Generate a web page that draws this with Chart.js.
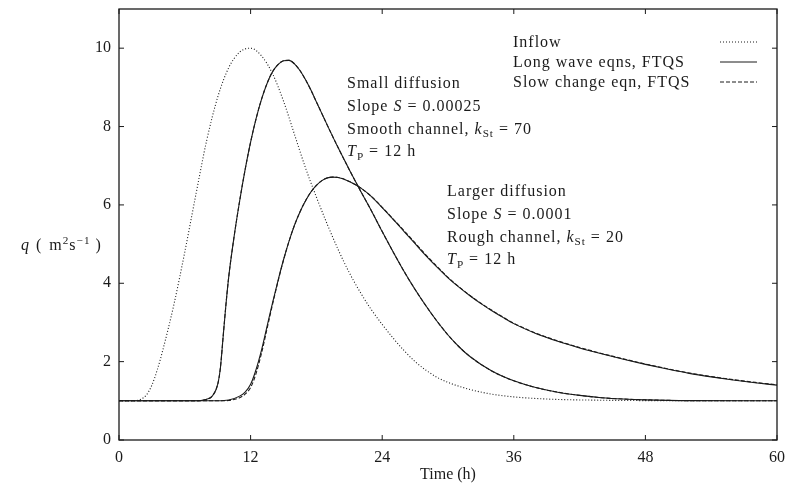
<!DOCTYPE html>
<html lang="en">
<head>
<meta charset="UTF-8">
<title>Flood wave routing</title>
<script src="https://cdn.jsdelivr.net/npm/chart.js"></script>
<style>
    html, body { margin: 0; padding: 0; background: #fff; }
    .wrap { width: 792px; height: 486px; position: relative; }
</style>
</head>
<body>
<div class="wrap"><canvas id="flow"></canvas></div>
<script>
// time (h) and discharge q (m^2/s)
const inflowT = [0, 1, 1.5, 2, 2.5, 3, 3.5, 4, 5, 6, 7, 8, 9, 10, 11, 12, 13, 14, 15, 16, 17, 18, 19, 20, 21, 22, 23, 24, 25, 26, 27, 28, 29, 30, 32, 34, 36, 38, 40, 44, 48, 54, 60];
const inflowQ = [1, 1, 1.005, 1.04, 1.15, 1.4, 1.8, 2.3, 3.45, 4.8, 6.25, 7.65, 8.75, 9.5, 9.9, 10, 9.8, 9.35, 8.65, 7.8, 6.95, 6.2, 5.5, 4.85, 4.27, 3.77, 3.33, 2.95, 2.6, 2.28, 2.0, 1.78, 1.6, 1.47, 1.29, 1.17, 1.1, 1.06, 1.035, 1.015, 1.005, 1, 1];

const smallT = [0, 7, 7.5, 8, 8.5, 9, 9.25, 9.5, 9.75, 10, 10.5, 11, 11.5, 12, 12.5, 13, 13.5, 14, 14.5, 15, 15.5, 16, 16.5, 17, 17.5, 18, 18.5, 19, 20, 21, 22, 23, 24, 25, 26, 27, 28, 29, 30, 31, 32, 34, 36, 38, 40, 42, 44, 46, 48, 52, 60];
const longSmallQ = [1, 1, 1.01, 1.04, 1.12, 1.42, 1.85, 2.65, 3.45, 4.15, 5.2, 6.1, 6.9, 7.6, 8.2, 8.7, 9.1, 9.4, 9.58, 9.68, 9.69, 9.6, 9.43, 9.2, 8.93, 8.63, 8.33, 8.03, 7.45, 6.9, 6.37, 5.86, 5.32, 4.8, 4.3, 3.84, 3.42, 3.03, 2.68, 2.38, 2.13, 1.76, 1.51, 1.34, 1.22, 1.14, 1.08, 1.045, 1.025, 1.005, 1];
const slowSmallQ = [1, 1, 1.01, 1.04, 1.12, 1.42, 1.85, 2.65, 3.45, 4.15, 5.2, 6.1, 6.9, 7.6, 8.2, 8.7, 9.1, 9.4, 9.58, 9.68, 9.69, 9.6, 9.43, 9.2, 8.93, 8.63, 8.33, 8.03, 7.45, 6.9, 6.37, 5.86, 5.32, 4.8, 4.3, 3.84, 3.42, 3.03, 2.68, 2.38, 2.13, 1.76, 1.51, 1.34, 1.22, 1.14, 1.08, 1.045, 1.025, 1.005, 1];

const largeT = [0, 9, 10, 11, 11.5, 12, 12.5, 13, 13.5, 14, 14.5, 15, 15.5, 16, 16.5, 17, 17.5, 18, 18.5, 19, 19.5, 20, 21, 22, 23, 24, 25, 26, 27, 28, 29, 30, 31, 32, 33, 34, 35, 36, 38, 40, 42, 44, 46, 48, 50, 52, 54, 56, 58, 60];
const longLargeQ = [1, 1, 1.02, 1.12, 1.22, 1.42, 1.8, 2.3, 2.9, 3.5, 4.07, 4.6, 5.07, 5.48, 5.82, 6.1, 6.33, 6.5, 6.62, 6.69, 6.71, 6.7, 6.6, 6.44, 6.22, 5.93, 5.63, 5.32, 5.01, 4.7, 4.41, 4.14, 3.9, 3.68, 3.48, 3.3, 3.13, 2.97, 2.72, 2.52, 2.35, 2.2, 2.06, 1.93, 1.81, 1.7, 1.61, 1.53, 1.46, 1.4];
const slowLargeQ = [1, 1, 1.01, 1.08, 1.17, 1.34, 1.7, 2.22, 2.84, 3.46, 4.05, 4.59, 5.07, 5.48, 5.82, 6.1, 6.33, 6.5, 6.62, 6.69, 6.71, 6.7, 6.6, 6.44, 6.22, 5.94, 5.64, 5.34, 5.03, 4.72, 4.43, 4.15, 3.91, 3.69, 3.49, 3.31, 3.14, 2.98, 2.73, 2.53, 2.36, 2.21, 2.07, 1.94, 1.82, 1.71, 1.62, 1.54, 1.47, 1.41];

const xTicks = [0, 12, 24, 36, 48, 60];
const yTicks = [0, 2, 4, 6, 8, 10];

const FONT = "'Liberation Serif', serif";
const FS = 16;
const INK = '#1a1a1a';

function pts(t, q) { return t.map((v, i) => ({ x: v, y: q[i] })); }

function curve(label, t, q, dash) {
    return {
        label: label,
        data: pts(t, q),
        borderColor: INK,
        borderWidth: 1.1,
        borderDash: dash,
        pointRadius: 0,
        cubicInterpolationMode: 'monotone',
        fill: false
    };
}

// text with italic / sub / superscript parts, optional extra gap before a part
function rich(ctx, x, y, parts) {
    let cx = x;
    parts.forEach(p => {
        const txt = p[0], kind = p[1] || 'r';
        let size = FS, dy = 0, style = '';
        if (kind === 'i') style = 'italic ';
        if (kind === 'sub') { size = FS * 0.7; dy = FS * 0.22; }
        if (kind === 'sup') { size = FS * 0.7; dy = -FS * 0.4; }
        cx += p[2] || 0;
        ctx.font = style + size + 'px ' + FONT;
        ctx.fillText(txt, cx, y + dy);
        cx += ctx.measureText(txt).width;
    });
}

const notes = {
    id: 'notes',
    afterDatasetsDraw(chart) {
        const ctx = chart.ctx, a = chart.chartArea;
        const xs = chart.scales.x, ys = chart.scales.y;
        ctx.save();
        // frame with inward ticks
        ctx.strokeStyle = INK;
        ctx.lineWidth = 1.3;
        ctx.strokeRect(a.left, a.top, a.right - a.left, a.bottom - a.top);
        ctx.lineWidth = 1;
        ctx.beginPath();
        xTicks.forEach(v => {
            const px = xs.getPixelForValue(v);
            ctx.moveTo(px, a.bottom); ctx.lineTo(px, a.bottom - 5);
            ctx.moveTo(px, a.top); ctx.lineTo(px, a.top + 5);
        });
        yTicks.forEach(v => {
            const py = ys.getPixelForValue(v);
            ctx.moveTo(a.left, py); ctx.lineTo(a.left + 5, py);
            ctx.moveTo(a.right, py); ctx.lineTo(a.right - 5, py);
        });
        ctx.stroke();

        ctx.fillStyle = INK;
        ctx.textBaseline = 'alphabetic';
        ctx.textAlign = 'left';
        ctx.letterSpacing = '1px';

        // legend
        const legend = [['Inflow', [1, 2]], ['Long wave eqns, FTQS', []], ['Slow change eqn, FTQS', [4, 2]]];
        legend.forEach((row, i) => {
            const y = 42 + i * 20;
            rich(ctx, 513, y + 5, [[row[0]]]);
            ctx.beginPath();
            ctx.setLineDash(row[1]);
            ctx.moveTo(720, y); ctx.lineTo(757, y);
            ctx.stroke();
        });
        ctx.setLineDash([]);

        // case labels
        const lh = 22.8;
        let y0 = 88;
        rich(ctx, 347, y0, [['Small diffusion']]);
        rich(ctx, 347, y0 + lh, [['Slope '], ['S', 'i'], [' = 0.00025']]);
        rich(ctx, 347, y0 + 2 * lh, [['Smooth channel, '], ['k', 'i'], ['St', 'sub'], [' = 70']]);
        rich(ctx, 347, y0 + 3 * lh, [['T', 'i'], ['P', 'sub'], [' = 12 h']]);
        y0 = 196;
        rich(ctx, 447, y0, [['Larger diffusion']]);
        rich(ctx, 447, y0 + lh, [['Slope '], ['S', 'i'], [' = 0.0001']]);
        rich(ctx, 447, y0 + 2 * lh, [['Rough channel, '], ['k', 'i'], ['St', 'sub'], [' = 20']]);
        rich(ctx, 447, y0 + 3 * lh, [['T', 'i'], ['P', 'sub'], [' = 12 h']]);

        // y axis label
        rich(ctx, 21, 250, [['q', 'i'], ['(', 'r', 6], ['m', 'r', 7], ['2', 'sup'], ['s'], ['\u22121', 'sup'], [')', 'r', 5]]);
        ctx.restore();
    }
};

new Chart(document.getElementById('flow'), {
    type: 'line',
    data: {
        datasets: [
            curve('Inflow', inflowT, inflowQ, [1, 2]),
            curve('Long wave eqns, FTQS', smallT, longSmallQ, []),
            curve('Long wave eqns, FTQS', largeT, longLargeQ, []),
            curve('Slow change eqn, FTQS', smallT, slowSmallQ, [4, 2]),
            curve('Slow change eqn, FTQS', largeT, slowLargeQ, [4, 2])
        ]
    },
    options: {
        responsive: true,
        maintainAspectRatio: false,
        animation: false,
        layout: { padding: { top: 9, right: 15, left: 0, bottom: 0 } },
        plugins: { legend: { display: false }, tooltip: { enabled: false } },
        scales: {
            x: {
                type: 'linear',
                min: 0,
                max: 60,
                afterBuildTicks: s => { s.ticks = xTicks.map(v => ({ value: v })); },
                afterFit: s => { s.height = 46; s.paddingLeft = 0; s.paddingRight = 0; },
                grid: { display: false, drawTicks: false },
                border: { display: false },
                ticks: { color: INK, font: { family: FONT, size: FS }, padding: 8, maxRotation: 0 },
                title: { display: true, text: 'Time (h)', color: INK, font: { family: FONT, size: FS }, padding: { top: 0, bottom: 2 } }
            },
            y: {
                min: 0,
                max: 11,
                afterBuildTicks: s => { s.ticks = yTicks.map(v => ({ value: v })); },
                afterFit: s => { s.width = 119; s.paddingTop = 0; s.paddingBottom = 0; },
                grid: { display: false, drawTicks: false },
                border: { display: false },
                ticks: { color: INK, font: { family: FONT, size: FS }, padding: 8 }
            }
        }
    },
    plugins: [notes]
});
</script>
</body>
</html>
